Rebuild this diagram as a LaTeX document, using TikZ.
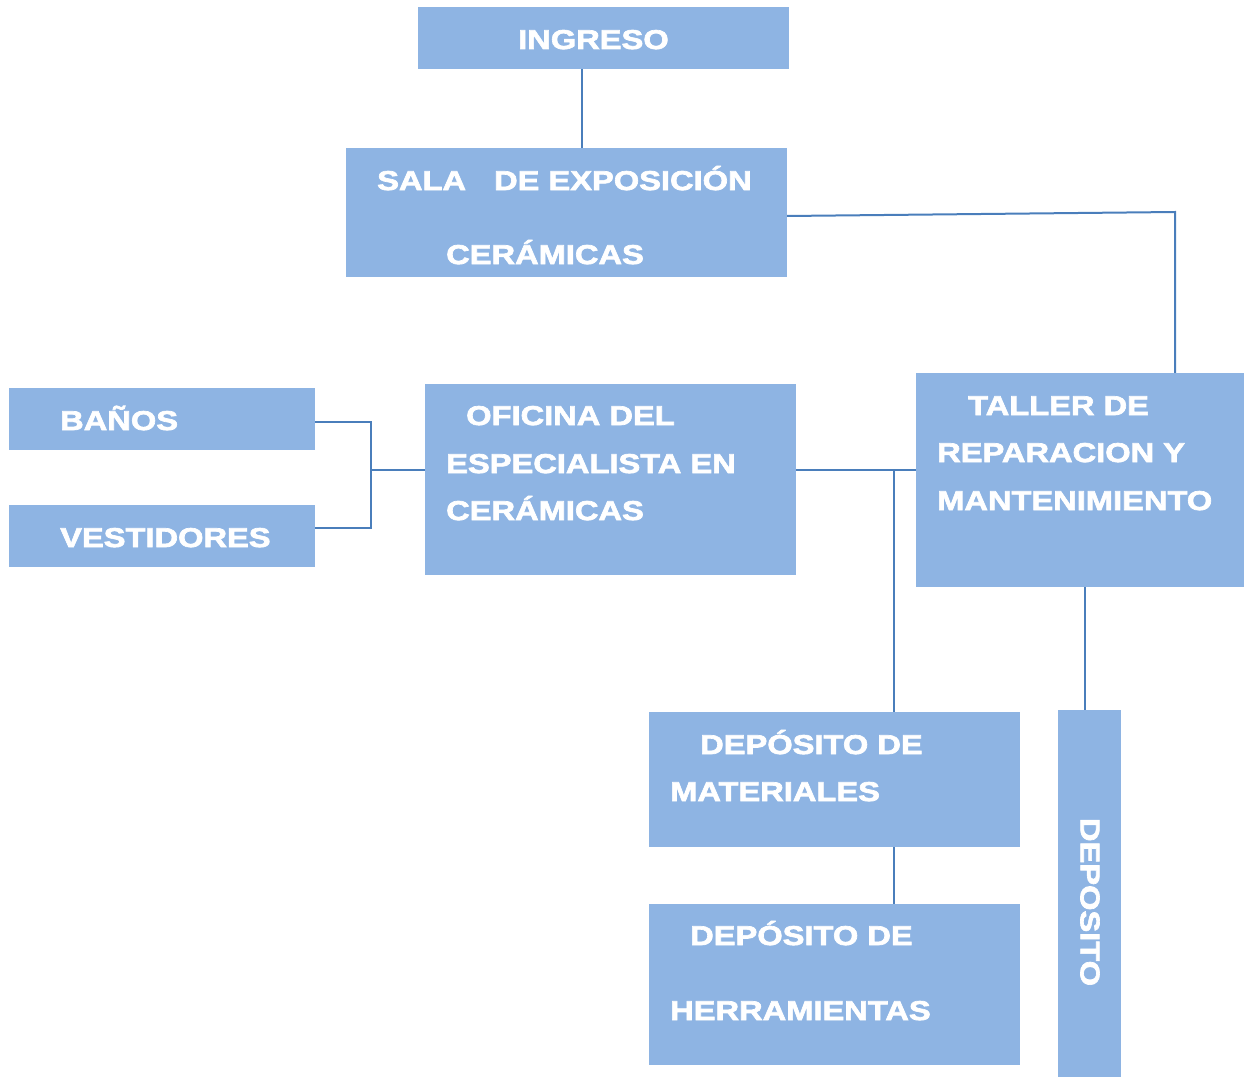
\documentclass[tikz,border=0pt]{standalone}
\usepackage{fontspec}
\setmainfont{Liberation Sans}[FakeStretch=1.2,FakeBold=2.5]
\definecolor{boxfill}{HTML}{8EB4E3}
\definecolor{linec}{HTML}{4A7EBB}
\begin{document}
\begin{tikzpicture}[x=1pt,y=-1pt,
  box/.style={draw=none,fill=boxfill,rectangle,inner sep=0pt},
  lbl/.style={anchor=base west,inner sep=0pt,text=white,font=\bfseries\fontsize{27.2}{30}\selectfont},
  conn/.style={draw=linec,line width=2pt}]
\useasboundingbox (0,0) rectangle (1247,1078);
% boxes
\node[box,minimum width=371pt,minimum height=62pt] (ingreso) at (603.5,38) {};
\node[box,minimum width=441pt,minimum height=129pt] (sala) at (566.5,212.5) {};
\node[box,minimum width=306pt,minimum height=62pt] (banos) at (162,419) {};
\node[box,minimum width=306pt,minimum height=62pt] (vest) at (162,536) {};
\node[box,minimum width=371pt,minimum height=191pt] (oficina) at (610.5,479.5) {};
\node[box,minimum width=328pt,minimum height=214pt] (taller) at (1080,480) {};
\node[box,minimum width=371pt,minimum height=135pt] (mat) at (834.5,779.5) {};
\node[box,minimum width=371pt,minimum height=161pt] (herr) at (834.5,984.5) {};
\node[box,minimum width=63pt,minimum height=367pt] (dep) at (1089.5,893.5) {};
% labels
\node[lbl] (t1) at (518,49) {INGRESO};
\node[lbl] (t2) at (377,190) {SALA\hspace{19pt} DE EXPOSICIÓN};
\node[lbl] (t3) at (446,264) {CERÁMICAS};
\node[lbl] (t4) at (60,430) {BAÑOS};
\node[lbl] (t5) at (60,547) {VESTIDORES};
\node[lbl] (t6) at (466,425) {OFICINA DEL};
\node[lbl] (t7) at (446,473) {ESPECIALISTA EN};
\node[lbl] (t8) at (446,520) {CERÁMICAS};
\node[lbl] (t9) at (968,415) {TALLER DE};
\node[lbl] (t10) at (937,462) {REPARACION Y};
\node[lbl] (t11) at (937,510) {MANTENIMIENTO};
\node[lbl] (t12) at (700,754) {DEPÓSITO DE};
\node[lbl] (t13) at (670,801) {MATERIALES};
\node[lbl] (t14) at (690,945) {DEPÓSITO DE};
\node[lbl] (t15) at (670,1020) {HERRAMIENTAS};
\node[lbl,anchor=center,rotate=-90] (t16) at (1090,902) {DEPOSITO};
% junction coordinates
\coordinate (c1) at (582,0);
\coordinate (c2) at (1175,212);
\coordinate (j1) at (371,470);
\coordinate (j2) at (894,470);
\coordinate (c3) at (1084.5,0);
% connectors
\draw[conn] (c1 |- ingreso.south) -- (c1 |- sala.north);
\draw[conn] ([yshift=-3.5pt]sala.east) -- (c2) -- (c2 |- taller.north);
\draw[conn] ([yshift=-3pt]banos.east) -| (j1);
\draw[conn] ([yshift=8pt]vest.east) -| (j1);
\draw[conn] (j1) -- (j1 -| oficina.west);
\draw[conn] (j1 -| oficina.east) -- (j1 -| taller.west);
\draw[conn] (j2) -- (j2 |- mat.north);
\draw[conn] (j2 |- mat.south) -- (j2 |- herr.north);
\draw[conn] (c3 |- taller.south) -- (c3 |- dep.north);
\end{tikzpicture}
\end{document}
